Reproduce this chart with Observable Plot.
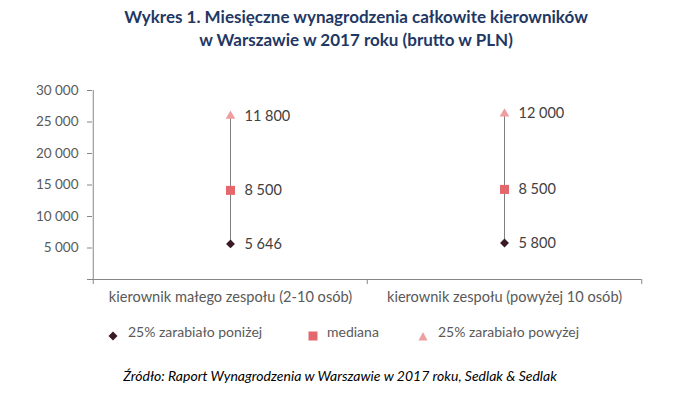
<!DOCTYPE html>
<html><head><meta charset="utf-8">
<script src="https://cdn.jsdelivr.net/npm/d3@7"></script>
<script src="https://cdn.jsdelivr.net/npm/@observablehq/plot@0.6"></script>
<style>
body{margin:0;background:#fff;}
#wrap{position:relative;width:676px;height:395px;font-family:Lato,"Open Sans",sans-serif;overflow:hidden;}
#title{position:absolute;left:0;top:5px;width:676px;padding-left:36px;box-sizing:border-box;text-align:center;font-weight:bold;font-size:17px;line-height:23px;color:#1F3864;}
#chart{position:absolute;left:0;top:60px;}
.leg{position:absolute;top:322px;font-size:14px;color:#595959;line-height:20px;}
.sym{position:absolute;top:325px;}
#caption{position:absolute;top:367px;left:0;width:676px;padding-left:4px;box-sizing:border-box;text-align:center;font-style:italic;font-size:14px;color:#000;}
</style></head>
<body><div id="wrap">
<div id="title">Wykres 1. Miesięczne wynagrodzenia całkowite kierowników<br>w Warszawie w 2017 roku (brutto w PLN)</div>
<div id="chart"></div>
<div id="legend"></div>
<div id="caption">Źródło: Raport Wynagrodzenia w Warszawie w 2017 roku, Sedlak &amp; Sedlak</div>
</div>
<script>
const categories = ["kierownik małego zespołu (2-10 osób)", "kierownik zespołu (powyżej 10 osób)"];
const lower25 = [5646, 5800];
const median = [8500, 8500];
const upper25 = [11800, 12000];
const yTicks = [0, 5000, 10000, 15000, 20000, 25000, 30000];
const seriesNames = ["25% zarabiało poniżej", "mediana", "25% zarabiało powyżej"];
const seriesColors = ["#3B1A24", "#E4686B", "#EE9E9E"];

const loc = d3.formatLocale({decimal: ",", thousands: " ", grouping: [3], currency: ["", ""]});
const fmt = loc.format(",d");

const rows = [];
categories.forEach((c, i) => {
  const p1 = lower25[i], p2 = p1 + median[i], p3 = p2 + upper25[i];
  rows.push({cat: c, s: 0, pos: p1, value: lower25[i]});
  rows.push({cat: c, s: 1, pos: p2, value: median[i]});
  rows.push({cat: c, s: 2, pos: p3, value: upper25[i]});
});
const spans = categories.map((c, i) => ({cat: c, lo: lower25[i], hi: lower25[i] + median[i] + upper25[i]}));

const W = 676, H = 250, mT = 30, mB = 31, mL = 92, mR = 35;
const plotH = H - mT - mB;
const half = (W - mL - mR) / categories.length / 2;
const axisGray = "#868686";
const font = "Lato, 'Open Sans', sans-serif";

const chart = Plot.plot({
  width: W, height: H, marginTop: mT, marginBottom: mB, marginLeft: mL, marginRight: mR,
  x: {type: "band", domain: categories, padding: 0, label: null},
  y: {domain: [0, 30000], label: null},
  style: {fontFamily: font, background: "#fff"},
  marks: [
    Plot.axisY({ticks: yTicks, tickSize: 5, tickPadding: 9, tickFormat: d => d === 0 ? "" : fmt(d), stroke: axisGray, color: "#595959", fontSize: 13.5, label: null}),
    Plot.axisX({tickSize: 0, tickPadding: 12, color: "#595959", fontSize: 14.6, label: null}),
    Plot.ruleX([categories[0]], {x: d => d, dx: -half, stroke: axisGray}),
    Plot.ruleY([0], {stroke: axisGray}),
    Plot.ruleX(categories, {x: d => d, dx: -half, insetTop: plotH, insetBottom: -5, stroke: axisGray}),
    Plot.ruleX([categories[categories.length - 1]], {x: d => d, dx: half, insetTop: plotH, insetBottom: -5, stroke: axisGray}),
    Plot.ruleX(spans, {x: "cat", y1: "lo", y2: "hi", stroke: "#7F7F7F", strokeWidth: 1}),
    Plot.dot(rows.filter(d => d.s === 0), {x: "cat", y: "pos", symbol: "diamond2", fill: seriesColors[0], stroke: "none", r: 4}),
    Plot.dot(rows.filter(d => d.s === 1), {x: "cat", y: "pos", symbol: "square", fill: seriesColors[1], stroke: "none", r: 5.1}),
    Plot.dot(rows.filter(d => d.s === 2), {x: "cat", y: "pos", symbol: "triangle", fill: seriesColors[2], stroke: "none", r: 3.6}),
    Plot.text(rows, {x: "cat", y: "pos", text: d => fmt(d.value), dx: 14, textAnchor: "start", fontSize: 14.5, fill: "#404040"})
  ]
});
document.getElementById("chart").appendChild(chart);

// legend
const leg = document.getElementById("legend");
const symX = [113, 313, 423];
const txtX = [128, 327, 438];
const shapes = [
  '<svg width="10" height="10"><path d="M5,0.5L9.5,5L5,9.5L0.5,5Z" fill="' + seriesColors[0] + '"/></svg>',
  '<svg width="10" height="10"><rect x="0.5" y="0.5" width="9" height="9" fill="' + seriesColors[1] + '"/></svg>',
  '<svg width="10" height="10"><path d="M5,1L9.5,9.5L0.5,9.5Z" fill="' + seriesColors[2] + '"/></svg>'
];
seriesNames.forEach((n, i) => {
  const s = document.createElement("div");
  s.className = "sym"; s.style.left = (symX[i] - 5) + "px"; s.innerHTML = shapes[i];
  leg.appendChild(s);
  const t = document.createElement("div");
  t.className = "leg"; t.style.left = txtX[i] + "px"; t.textContent = n;
  leg.appendChild(t);
});
</script>
</body></html>
